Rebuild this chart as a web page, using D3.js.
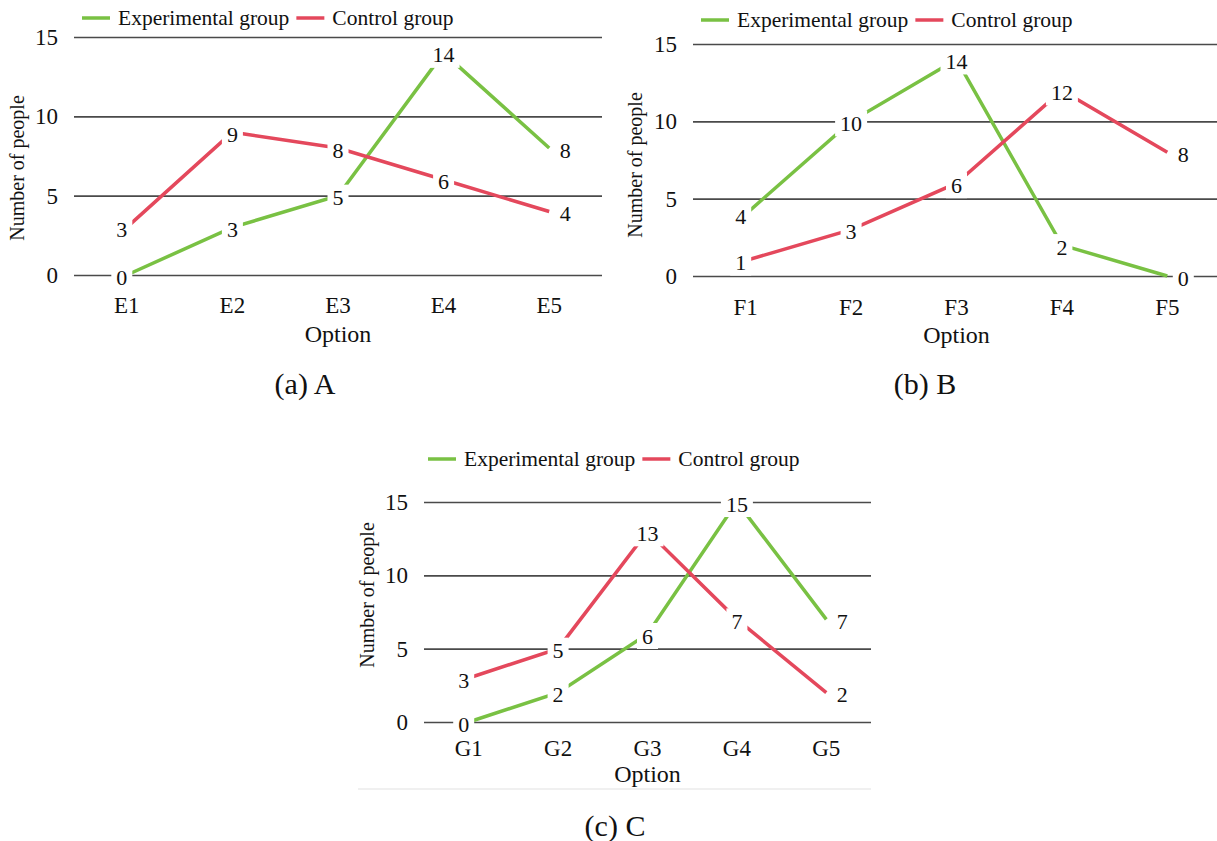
<!DOCTYPE html>
<html>
<head>
<meta charset="utf-8">
<script src="https://cdn.jsdelivr.net/npm/d3@7"></script>
<style>
body { margin: 0; background: #fff; }
text { font-family: "Liberation Serif", "Times New Roman", serif; fill: #111; }
.grid line { stroke: #4a4a4a; stroke-width: 1.6; }
</style>
</head>
<body>
<svg id="chart" width="1217" height="841"></svg>
<script>
// data
var seriesNames = ["Experimental group", "Control group"];
var colors = ["#79c143", "#e4485c"];
var yTicks = [0, 5, 10, 15];

var optionsA = ["E1", "E2", "E3", "E4", "E5"];
var expA = [0, 3, 5, 14, 8];
var ctrlA = [3, 9, 8, 6, 4];

var optionsB = ["F1", "F2", "F3", "F4", "F5"];
var expB = [4, 10, 14, 2, 0];
var ctrlB = [1, 3, 6, 12, 8];

var optionsC = ["G1", "G2", "G3", "G4", "G5"];
var expC = [0, 2, 6, 15, 7];
var ctrlC = [3, 5, 13, 7, 2];

var svg = d3.select("#chart");

function panel(cfg, cats, exp, ctrl) {
	var g = svg.append("g");
	var x = d3.scalePoint().domain(cats).range([cfg.x0, cfg.x1]).padding(0.5);
	var y = d3.scaleLinear().domain([0, 15]).range([cfg.yBot, cfg.yTop]);

	// gridlines + y tick labels
	var ax = g.append("g")
		.attr("class", "grid")
		.attr("transform", "translate(" + cfg.x0 + ",0)")
		.call(d3.axisLeft(y).tickValues(yTicks).tickSize(-(cfg.x1 - cfg.x0)).tickPadding(16));
	ax.select(".domain").remove();
	ax.selectAll("text").attr("font-size", 23).attr("fill", "#111")
		.style("font-family", "Liberation Serif");

	// x tick labels
	g.selectAll(".xt").data(cats).enter().append("text")
		.attr("x", function(d) { return x(d); })
		.attr("y", cfg.yBot + cfg.tickDy)
		.attr("text-anchor", "middle")
		.attr("dominant-baseline", "central")
		.attr("font-size", 23)
		.text(function(d) { return d; });

	g.append("text")
		.attr("x", (cfg.x0 + cfg.x1) / 2)
		.attr("y", cfg.optionY)
		.attr("text-anchor", "middle")
		.attr("dominant-baseline", "central")
		.attr("font-size", 24)
		.text("Option");

	g.append("text")
		.attr("transform", "translate(" + cfg.titleX + "," + cfg.titleY + ") rotate(-90)")
		.attr("text-anchor", "middle")
		.attr("dominant-baseline", "central")
		.attr("font-size", 20)
		.text("Number of people");

	var data = [exp, ctrl];
	var line = d3.line()
		.x(function(d, i) { return x(cats[i]); })
		.y(function(d) { return y(d); });

	data.forEach(function(vals, s) {
		g.append("path")
			.attr("d", line(vals))
			.attr("fill", "none")
			.attr("stroke", colors[s])
			.attr("stroke-width", 3.5);
	});

	// data labels with white boxes
	data.forEach(function(vals, s) {
		vals.forEach(function(v, i) {
			var dx = i == 0 ? -5 : (i == vals.length - 1 ? 16 : 0);
			var cx = x(cats[i]) + dx, cy = y(v) + 2;
			var lg = g.append("g");
			var r = lg.append("rect").attr("fill", "#fff");
			var t = lg.append("text")
				.attr("x", cx).attr("y", cy)
				.attr("text-anchor", "middle")
				.attr("dominant-baseline", "central")
				.attr("font-size", 22)
				.text(v);
			var w = t.node().getComputedTextLength() + 10;
			r.attr("x", cx - w / 2).attr("y", cy - 13).attr("width", w).attr("height", 26);
		});
	});

	// legend
	var lx = cfg.legendX;
	seriesNames.forEach(function(name, s) {
		g.append("line")
			.attr("x1", lx).attr("x2", lx + 28)
			.attr("y1", cfg.legendY).attr("y2", cfg.legendY)
			.attr("stroke", colors[s]).attr("stroke-width", 3.5);
		var t = g.append("text")
			.attr("x", lx + 36).attr("y", cfg.legendY)
			.attr("dominant-baseline", "central")
			.attr("font-size", 21.5)
			.text(name);
		lx = lx + 36 + t.node().getComputedTextLength() + 7;
	});

	g.append("text")
		.attr("x", cfg.capX).attr("y", cfg.capY)
		.attr("text-anchor", "middle")
		.attr("dominant-baseline", "central")
		.attr("font-size", 30)
		.text(cfg.caption);
}

panel({x0: 74, x1: 602, yTop: 37, yBot: 275, legendX: 82, legendY: 18, titleX: 17, titleY: 168,
	tickDy: 30, optionY: 334, capX: 305, capY: 383, caption: "(a) A"}, optionsA, expA, ctrlA);
panel({x0: 693, x1: 1220, yTop: 44, yBot: 276, legendX: 701, legendY: 20, titleX: 635, titleY: 165,
	tickDy: 31, optionY: 335, capX: 925, capY: 383, caption: "(b) B"}, optionsB, expB, ctrlB);
panel({x0: 424, x1: 871, yTop: 502, yBot: 722, legendX: 428, legendY: 459, titleX: 367, titleY: 595,
	tickDy: 26, optionY: 774, capX: 615, capY: 825, caption: "(c) C"}, optionsC, expC, ctrlC);

// thin separator under panel C
svg.append("line")
	.attr("x1", 358).attr("x2", 871)
	.attr("y1", 789).attr("y2", 789)
	.attr("stroke", "#e2e2e2").attr("stroke-width", 1.2);
</script>
</body>
</html>
